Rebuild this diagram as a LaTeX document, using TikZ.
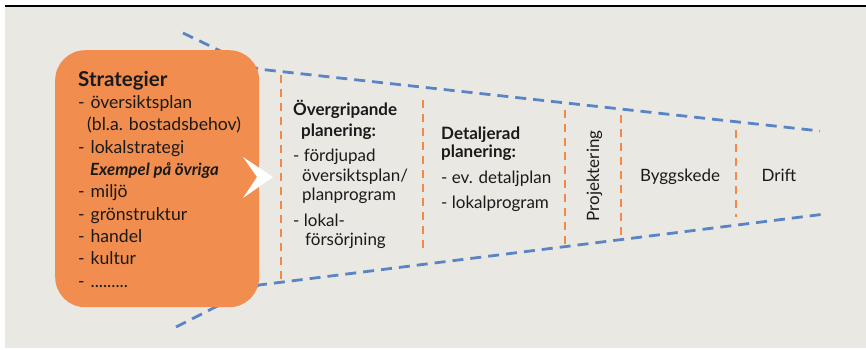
\documentclass[tikz,border=0pt]{standalone}
\usepackage{fontspec}
\setmainfont{Lato}
\definecolor{panel}{HTML}{EAE8E3}
\definecolor{boxorange}{HTML}{F18D4E}
\definecolor{dashorange}{HTML}{F08A4B}
\definecolor{flowblue}{HTML}{5A85C4}
\definecolor{ink}{HTML}{1A1A1A}
\begin{document}
\begin{tikzpicture}[x=1pt,y=-1pt,
  funnel/.style={flowblue,line width=2.8pt,dash pattern=on 11pt off 7pt},
  divider/.style={dashorange,line width=2.4pt,dash pattern=on 8pt off 6pt},
  txt/.style={anchor=base west,inner sep=0pt,text=ink,font=\fontsize{17}{20}\selectfont},
  boxtxt/.style={txt,font=\fontsize{17.6}{21}\selectfont},
  hdr/.style={txt,font=\fontsize{17}{20}\selectfont\bfseries},
  mid/.style={anchor=base,inner sep=0pt,text=ink,font=\fontsize{17}{20}\selectfont}]
\useasboundingbox (0,0) rectangle (866,349);
% panel and top rule
\fill[panel] (5,6.5) rectangle (866,348);
\draw[black,line width=1.6pt] (5,6) -- (866,6);

% funnel outline
\coordinate (ua) at (183,33);
\coordinate (ub) at (258,69);
\coordinate (uc) at (820,131);
\coordinate (la) at (176,327);
\coordinate (lb) at (259,285);
\coordinate (lc) at (825,214);
\draw[funnel] (ua) -- (ub) -- (uc);
\draw[funnel] (la) -- (lb) -- (lc);

% phase dividers
\foreach \n/\x/\ya/\yb in {d1/281/75/281, d2/423/100/252, d3/565/110/244, d4/621/115/236, d5/736/130/217}{
  \coordinate (\n t) at (\x,\ya);
  \coordinate (\n b) at (\x,\yb);
  \draw[divider] (\n t) -- (\n b);
}

% strategy box
\node[fill=boxorange,rounded corners=30pt,minimum width=204pt,minimum height=257pt,
      inner sep=0pt,anchor=north west] (strat) at (55,50) {};
\fill[white] (243,157) -- (273,177) -- (243,198) -- (257,177) -- cycle;

\node[txt,font=\fontsize{20.5}{24}\selectfont\bfseries] (s0) at (78,86) {Strategier};
\node[boxtxt] (s1) at (78,108) {-\,\,översiktsplan};
\node[boxtxt] (s2) at (87,130.5) {(bl.a. bostadsbehov)};
\node[boxtxt] (s3) at (78,153) {-\,\,lokalstrategi};
\node[boxtxt,font=\fontsize{16.8}{21}\selectfont\bfseries\itshape] (s4) at (90,175) {Exempel på övriga};
\node[boxtxt] (s5) at (78,197) {-\,\,miljö};
\node[boxtxt] (s6) at (78,220) {-\,\,grönstruktur};
\node[boxtxt] (s7) at (78,242) {-\,\,handel};
\node[boxtxt] (s8) at (78,264) {-\,\,kultur};
\node[boxtxt] (s9) at (78,287) {-\,\,.........};

% overall planning
\node[hdr] (o1) at (293,115) {Övergripande};
\node[hdr] (o2) at (301,136) {planering:};
\node[txt] (o3) at (293,161) {- fördjupad};
\node[txt] (o4) at (302,181) {översiktsplan/};
\node[txt] (o5) at (302,200) {planprogram};
\node[txt] (o6) at (293,226) {- lokal-};
\node[txt] (o7) at (305,245) {försörjning};

% detailed planning
\node[hdr] (p1) at (441,139) {Detaljerad};
\node[hdr] (p2) at (441,157) {planering:};
\node[txt] (p3) at (441,183) {- ev. detaljplan};
\node[txt] (p4) at (441,208) {- lokalprogram};

% later phases
\node[txt,anchor=base,rotate=90] (pr) at (599,176) {Projektering};
\node[mid] (by) at (680,181) {Byggskede};
\node[mid] (dr) at (779,181) {Drift};
\end{tikzpicture}
\end{document}
